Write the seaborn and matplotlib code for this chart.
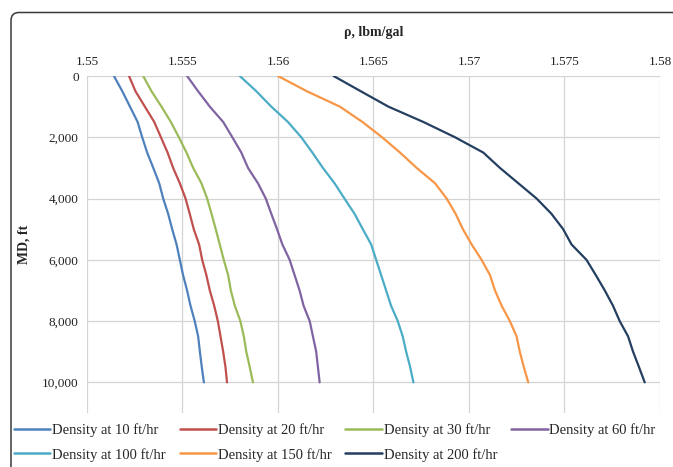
import numpy as np
import pandas as pd
import matplotlib
matplotlib.use("Agg")
import matplotlib.pyplot as plt
import matplotlib.transforms as mtransforms
import seaborn as sns
from matplotlib.patches import FancyBboxPatch

# ---- data ----
md = [0, 500, 1000, 1500, 2000, 2500, 3000, 3500, 4000, 4500, 5000,
      5500, 6000, 6500, 7000, 7500, 8000, 8500, 9000, 9500, 10000]
rate_labels = ["Density at 10 ft/hr", "Density at 20 ft/hr", "Density at 30 ft/hr",
               "Density at 60 ft/hr", "Density at 100 ft/hr", "Density at 150 ft/hr",
               "Density at 200 ft/hr"]
rho_10 = [1.55141, 1.55185, 1.55225, 1.55265, 1.55289, 1.55315, 1.55347, 1.55378, 1.55399, 1.55425, 1.55446,
          1.55469, 1.55486, 1.55503, 1.55524, 1.55542, 1.55564, 1.55582, 1.55591, 1.55601, 1.55612]
rho_20 = [1.55220, 1.55254, 1.55303, 1.55352, 1.55387, 1.55422, 1.55451, 1.55486, 1.55516, 1.55538, 1.55559,
          1.55587, 1.55603, 1.55625, 1.55643, 1.55666, 1.55685, 1.55699, 1.55713, 1.55725, 1.55733]
rho_30 = [1.55294, 1.55338, 1.55390, 1.55439, 1.55481, 1.55521, 1.55556, 1.55599, 1.55629, 1.55652, 1.55674,
          1.55695, 1.55716, 1.55739, 1.55753, 1.55774, 1.55803, 1.55821, 1.55834, 1.55852, 1.55869]
rho_60 = [1.55524, 1.55582, 1.55643, 1.55713, 1.55761, 1.55808, 1.55843, 1.55895, 1.55936, 1.55965, 1.55995,
          1.56023, 1.56061, 1.56087, 1.56113, 1.56134, 1.56166, 1.56183, 1.56200, 1.56209, 1.56218]
rho_100 = [1.55800, 1.55887, 1.55965, 1.56052, 1.56122, 1.56180, 1.56235, 1.56296, 1.56348, 1.56401, 1.56444,
           1.56488, 1.56514, 1.56540, 1.56566, 1.56592, 1.56627, 1.56653, 1.56671, 1.56692, 1.56709]
rho_150 = [1.56000, 1.56152, 1.56324, 1.56442, 1.56545, 1.56639, 1.56726, 1.56822, 1.56883, 1.56930, 1.56968,
           1.57014, 1.57066, 1.57110, 1.57136, 1.57171, 1.57214, 1.57249, 1.57266, 1.57287, 1.57310]
rho_200 = [1.56291, 1.56434, 1.56578, 1.56761, 1.56927, 1.57075, 1.57162, 1.57258, 1.57354, 1.57432, 1.57493,
           1.57537, 1.57615, 1.57664, 1.57711, 1.57754, 1.57789, 1.57833, 1.57859, 1.57890, 1.57920]
x_ticks = [1.55, 1.555, 1.56, 1.565, 1.57, 1.575, 1.58]
x_tick_labels = ["1.55", "1.555", "1.56", "1.565", "1.57", "1.575", "1.58"]
y_ticks = [0, 2000, 4000, 6000, 8000, 10000]
y_tick_labels = ["0", "2,000", "4,000", "6,000", "8,000", "10,000"]

colors = ["#4F81BD", "#C0504D", "#9BBB59", "#8064A2", "#4BACC6", "#F79646", "#243F60"]

series = [rho_10, rho_20, rho_30, rho_60, rho_100, rho_150, rho_200]
frames = []
for lab, vals in zip(rate_labels, series):
    frames.append(pd.DataFrame({"MD": md, "rho": vals, "series": lab}))
df = pd.concat(frames, ignore_index=True)

sns.set_theme(style="white")
plt.rcParams["font.family"] = ["Liberation Serif", "DejaVu Serif"]

W, H = 673, 467
fig = plt.figure(figsize=(W / 100, H / 100), dpi=100)

# outer rounded frame (pixel coordinates)
frame = FancyBboxPatch((11, -60), 900, H - 12.5 + 60,
                       boxstyle="round,pad=0,rounding_size=8",
                       transform=mtransforms.IdentityTransform(), fill=False,
                       edgecolor="#3a3a3a", linewidth=1.1, zorder=0)
fig.patches.append(frame)

ax = fig.add_axes([87 / W, 1 - 413 / H, (660 - 87) / W, (413 - 76) / H])
sns.lineplot(data=df, x="rho", y="MD", hue="series", palette=colors,
             sort=False, estimator=None, linewidth=1.6, ax=ax, legend=True)

ax.set_xlim(1.55, 1.58)
ax.set_ylim(11000, 0)
ax.xaxis.tick_top()
ax.xaxis.set_label_position("top")
ax.set_xticks(x_ticks)
ax.set_xticklabels(x_tick_labels)
ax.set_yticks(y_ticks)
ax.set_yticklabels(y_tick_labels)
ax.tick_params(axis="both", length=0, labelsize=9.5, colors="#222222")
ax.tick_params(axis="x", pad=6)
ax.tick_params(axis="y", pad=6)
ax.grid(True, color="#D4D4D4", linewidth=0.9)
for s in ax.spines.values():
    s.set_visible(False)

ax.set_xlabel("\u03c1, lbm/gal", fontsize=10, fontweight="bold", labelpad=14)
ax.set_ylabel("MD, ft", fontsize=10, fontweight="bold", labelpad=8)

handles, labels = ax.get_legend_handles_labels()
ax.get_legend().remove()
for h in handles:
    h.set_linewidth(1.8)
# order so that the column-wise fill gives row-wise reading order
order = [0, 4, 1, 5, 2, 6, 3]
handles = [handles[i] for i in order]
labels = [labels[i] for i in order]
fig.legend(handles, labels, loc="upper left", bbox_to_anchor=(14 / W, 1 - 423 / H),
           ncol=4, frameon=False, fontsize=10.5, handlelength=2.5,
           handletextpad=0.12, columnspacing=0.95, labelspacing=0.75,
           borderaxespad=0, borderpad=0)

fig.savefig("out.png", dpi=100)
